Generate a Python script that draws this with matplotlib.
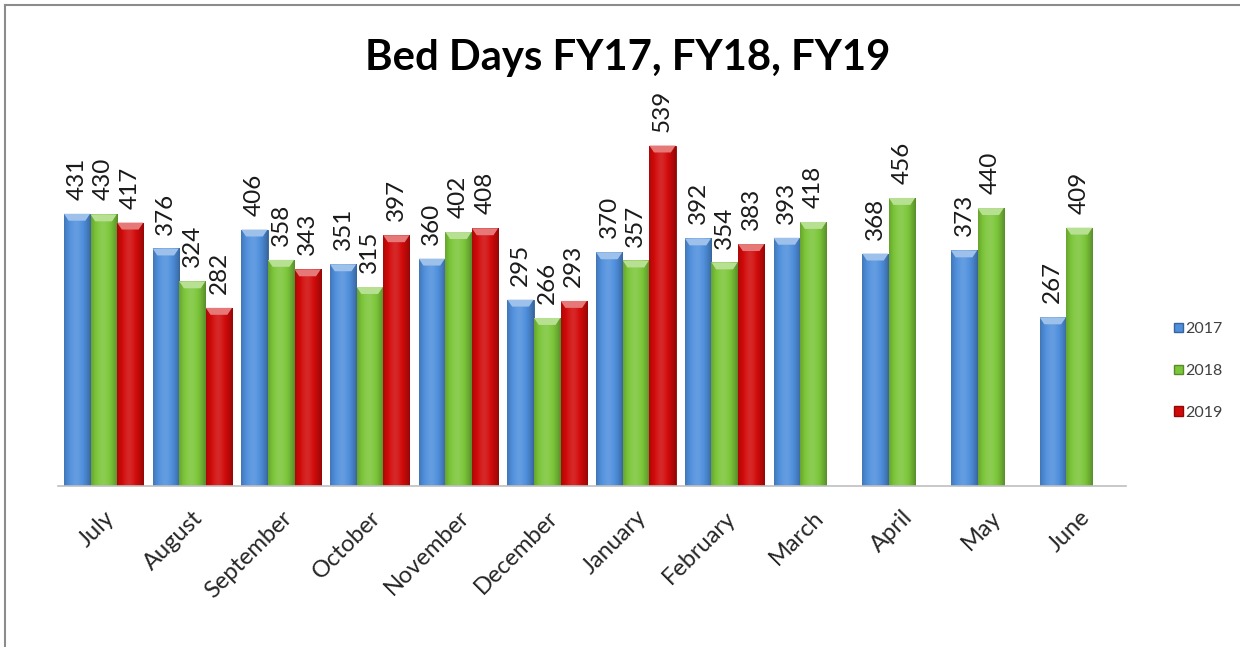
import numpy as np
import matplotlib
matplotlib.use("Agg")
import matplotlib.pyplot as plt
from matplotlib.patches import Patch, Polygon
from matplotlib.lines import Line2D
from matplotlib.colors import to_rgb

months = ["July", "August", "September", "October", "November", "December",
          "January", "February", "March", "April", "May", "June"]
fy2017 = [431, 376, 406, 351, 360, 295, 370, 392, 393, 368, 373, 267]
fy2018 = [430, 324, 358, 315, 402, 266, 357, 354, 418, 456, 440, 409]
fy2019 = [417, 282, 343, 397, 408, 293, 539, 383, np.nan, np.nan, np.nan, np.nan]
series_names = ["2017", "2018", "2019"]
colors = ["#4f8fdc", "#7cc63a", "#d10a0a"]

plt.rcParams['font.family'] = ['Lato', 'DejaVu Sans']

fig = plt.figure(figsize=(12.4, 6.47), dpi=100)
ax = fig.add_axes([57.5/1240, 1-486/647, 1068/1240, (486-107)/647])
ax.set_ylim(0, 600)

def shade(c, f):
    r = np.array(to_rgb(c))
    if f >= 0:
        return r + (1 - r) * f
    return r * (1 + f)

x = np.arange(len(months))
w = 0.295
step = 0.3
for i, (vals, col) in enumerate(zip([fy2017, fy2018, fy2019], colors)):
    offs = (i - 1) * step
    bars = ax.bar(x + offs, vals, width=w, color=col, edgecolor=shade(col, -0.35),
                  linewidth=0.6, zorder=2)
    # horizontal gradient for a cylindrical look
    n = 64
    t = np.linspace(0, 1, n)
    prof = -0.35 * np.abs(t - 0.45) ** 1.6 * 3 + 0.12
    prof = np.clip(prof, -0.35, 0.15)
    grad = np.zeros((1, n, 4))
    for k, p in enumerate(prof):
        grad[0, k, :3] = shade(col, p)
        grad[0, k, 3] = 1
    for b, v in zip(bars, vals):
        if np.isnan(v):
            continue
        x0 = b.get_x(); bw = b.get_width(); h = b.get_height()
        im = ax.imshow(grad, extent=(x0, x0 + bw, 0, h), aspect='auto',
                       zorder=2.1, interpolation='bilinear')
        im.set_clip_path(b)
        bev = 11
        poly = Polygon([(x0, h), (x0 + bw, h), (x0 + bw * 0.82, h - bev),
                        (x0 + bw * 0.18, h - bev)], closed=True,
                       facecolor=shade(col, 0.45), edgecolor='none', zorder=2.2)
        ax.add_patch(poly)
        ax.annotate(f"{int(v)}", (x0 + bw / 2, h), xytext=(0, 10),
                    textcoords='offset points', rotation=90, ha='center',
                    va='bottom', fontsize=17.5, color='#1a1a1a')

ax.set_xticks(x)
ax.set_xticklabels(months, rotation=45, ha='right', rotation_mode='anchor',
                   fontsize=17, color='#262626')
ax.tick_params(axis='x', length=0, pad=15)
ax.set_yticks([])
for s in ['top', 'right', 'left']:
    ax.spines[s].set_visible(False)
ax.spines['bottom'].set_color('#bfbfbf')
ax.spines['bottom'].set_linewidth(1.2)
ax.set_xlim(-0.52, 11.52)

fig.text(628/1240, 1-58/647, "Bed Days FY17, FY18, FY19", ha='center',
         va='center', fontsize=30.2, fontweight='bold', color='black')

handles = [Patch(facecolor=c, edgecolor=shade(c, -0.3)) for c in colors]
fig.legend(handles, series_names, loc='center left',
           bbox_to_anchor=(1160/1240, 1-371/647), frameon=False, fontsize=11.5,
           handlelength=0.55, handleheight=0.55, handletextpad=0.1,
           labelspacing=1.75, labelcolor='#404040')

# figure border (top and left edges)
fig.add_artist(Line2D([5/1240, 1], [1-5/647, 1-5/647], color='#8c8c8c', lw=1.5,
                      transform=fig.transFigure))
fig.add_artist(Line2D([5/1240, 5/1240], [0, 1-5/647], color='#8c8c8c', lw=1.5,
                      transform=fig.transFigure))

fig.savefig("out.png", dpi=100, facecolor='white')
